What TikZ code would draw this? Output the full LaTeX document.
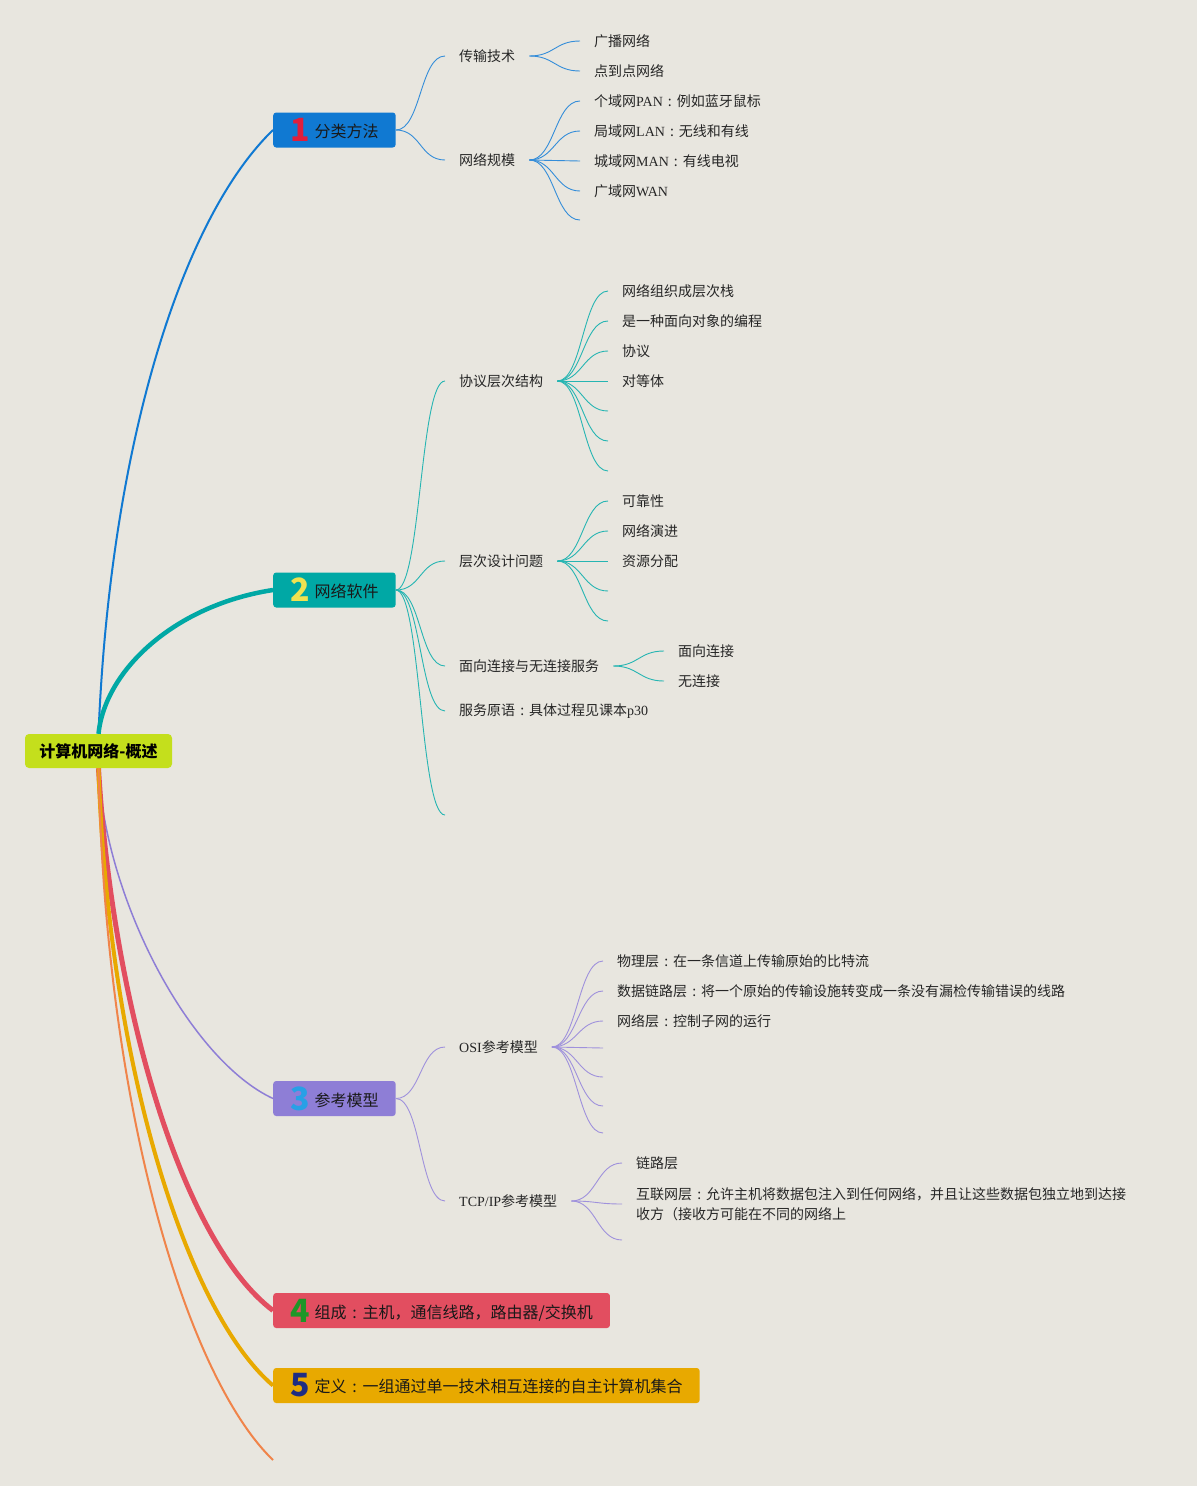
\documentclass[tikz,border=0pt]{standalone}
\usepackage{fontspec}
\setmainfont{Noto Sans CJK SC}
\newfontfamily\lat{Liberation Serif}
\definecolor{bgcol}{RGB}{232,230,223}
\definecolor{rootcol}{RGB}{196,223,28}
\definecolor{bluecol}{RGB}{16,121,210}
\definecolor{tealcol}{RGB}{0,168,165}
\definecolor{purpcol}{RGB}{142,126,214}
\definecolor{redcol}{RGB}{226,78,96}
\definecolor{yelcol}{RGB}{232,169,0}
\definecolor{orgcol}{RGB}{240,132,74}
\definecolor{numred}{RGB}{224,30,60}
\definecolor{numyel}{RGB}{240,226,80}
\definecolor{numcyan}{RGB}{40,160,230}
\definecolor{numgreen}{RGB}{30,150,40}
\definecolor{numnavy}{RGB}{30,45,130}
\newcommand{\topicnum}[2]{\raisebox{-4pt}{\color{#1}\fontsize{32}{32}\selectfont\bfseries #2}\hspace{5pt}}
\newcommand{\zhcolon}{\makebox[1em][c]{:}}

\begin{document}
\begin{tikzpicture}[x=1pt, y=-1pt,
  topic/.style={anchor=west, rounded corners=3pt, minimum height=35pt, inner xsep=17pt, inner ysep=0pt, text=black!90, font=\fontsize{16}{19}\selectfont},
  subtopic/.style={anchor=west, inner xsep=14pt, inner ysep=1pt, text=black!85, font=\fontsize{14}{17}\selectfont},
  leaf/.style={subtopic},
  twig/.style={line width=0.9pt}] % {{{
\fill[bgcol] (0,0) rectangle (1197,1486);
\useasboundingbox (0,0) rectangle (1197,1486);
\node[fill=rootcol, rounded corners=4pt, minimum width=147pt, minimum height=34pt, inner xsep=0pt, font=\fontsize{16}{19}\selectfont\bfseries] (root) at (98.5,751) {计算机网络-概述};
% 1 分类方法 {{{
\node[topic, fill=bluecol] (fenlei) at (273,130) {\topicnum{numred}{1}分类方法};
\draw[bluecol, line width=2pt] (root.north) .. controls (110,450) and (180,220) .. (fenlei.west);
\node[subtopic] (chuanshu) at (445,56) {传输技术};
\node[subtopic] (guimo) at (445,160) {网络规模};
\draw[twig, bluecol!85!white] (fenlei.east) .. controls +(25,0) and +(-25,0) .. (chuanshu.west);
\draw[twig, bluecol!85!white] (fenlei.east) .. controls +(25,0) and +(-25,0) .. (guimo.west);
\node[leaf] (guangbo) at (580,41) {广播网络};
\node[leaf] (diandao) at (580,71) {点到点网络};
\draw[twig, bluecol!85!white] (chuanshu.east) .. controls +(25,0) and +(-25,0) .. (guangbo.west);
\draw[twig, bluecol!85!white] (chuanshu.east) .. controls +(25,0) and +(-25,0) .. (diandao.west);
\node[leaf] (pan) at (580,101) {个域网{\lat PAN}\zhcolon 例如蓝牙鼠标};
\node[leaf] (lan) at (580,131) {局域网{\lat LAN}\zhcolon 无线和有线};
\node[leaf] (man) at (580,161) {城域网{\lat MAN}\zhcolon 有线电视};
\node[leaf] (wan) at (580,191) {广域网{\lat WAN}};
\coordinate (guimo5) at (580,220);
\draw[twig, bluecol!85!white] (guimo.east) .. controls +(25,0) and +(-25,0) .. (pan.west);
\draw[twig, bluecol!85!white] (guimo.east) .. controls +(25,0) and +(-25,0) .. (lan.west);
\draw[twig, bluecol!85!white] (guimo.east) .. controls +(25,0) and +(-25,0) .. (man.west);
\draw[twig, bluecol!85!white] (guimo.east) .. controls +(25,0) and +(-25,0) .. (wan.west);
\draw[twig, bluecol!85!white] (guimo.east) .. controls +(25,0) and +(-25,0) .. (guimo5);
% }}}
% 2 网络软件 {{{
\node[topic, fill=tealcol] (ruanjian) at (273,590) {\topicnum{numyel}{2}网络软件};
\draw[tealcol, line width=4.5pt] (root.north) .. controls (105,670) and (175,605) .. (ruanjian.west);
\node[subtopic] (cengci) at (445,381) {协议层次结构};
\node[subtopic] (sheji) at (445,561) {层次设计问题};
\node[subtopic] (lianjie) at (445,666) {面向连接与无连接服务};
\node[subtopic] (yuanyu) at (445,711) {服务原语\zhcolon 具体过程见课本{\lat p30}};
\coordinate (ruanjian5) at (445,815);
\draw[twig, tealcol!85!white] (ruanjian.east) .. controls +(25,0) and +(-25,0) .. (cengci.west);
\draw[twig, tealcol!85!white] (ruanjian.east) .. controls +(25,0) and +(-25,0) .. (sheji.west);
\draw[twig, tealcol!85!white] (ruanjian.east) .. controls +(25,0) and +(-25,0) .. (lianjie.west);
\draw[twig, tealcol!85!white] (ruanjian.east) .. controls +(25,0) and +(-25,0) .. (yuanyu.west);
\draw[twig, tealcol!85!white] (ruanjian.east) .. controls +(25,0) and +(-25,0) .. (ruanjian5);
\node[leaf] (zhan) at (608,291) {网络组织成层次栈};
\node[leaf] (duixiang) at (608,321) {是一种面向对象的编程};
\node[leaf] (xieyi) at (608,351) {协议};
\node[leaf] (duideng) at (608,381) {对等体};
\coordinate (cengci5) at (608,411);
\coordinate (cengci6) at (608,441);
\coordinate (cengci7) at (608,471);
\draw[twig, tealcol!85!white] (cengci.east) .. controls +(25,0) and +(-25,0) .. (zhan.west);
\draw[twig, tealcol!85!white] (cengci.east) .. controls +(25,0) and +(-25,0) .. (duixiang.west);
\draw[twig, tealcol!85!white] (cengci.east) .. controls +(25,0) and +(-25,0) .. (xieyi.west);
\draw[twig, tealcol!85!white] (cengci.east) .. controls +(25,0) and +(-25,0) .. (duideng.west);
\draw[twig, tealcol!85!white] (cengci.east) .. controls +(25,0) and +(-25,0) .. (cengci5);
\draw[twig, tealcol!85!white] (cengci.east) .. controls +(25,0) and +(-25,0) .. (cengci6);
\draw[twig, tealcol!85!white] (cengci.east) .. controls +(25,0) and +(-25,0) .. (cengci7);
\node[leaf] (kekao) at (608,501) {可靠性};
\node[leaf] (yanjin) at (608,531) {网络演进};
\node[leaf] (ziyuan) at (608,561) {资源分配};
\coordinate (sheji4) at (608,591);
\coordinate (sheji5) at (608,621);
\draw[twig, tealcol!85!white] (sheji.east) .. controls +(25,0) and +(-25,0) .. (kekao.west);
\draw[twig, tealcol!85!white] (sheji.east) .. controls +(25,0) and +(-25,0) .. (yanjin.west);
\draw[twig, tealcol!85!white] (sheji.east) .. controls +(25,0) and +(-25,0) .. (ziyuan.west);
\draw[twig, tealcol!85!white] (sheji.east) .. controls +(25,0) and +(-25,0) .. (sheji4);
\draw[twig, tealcol!85!white] (sheji.east) .. controls +(25,0) and +(-25,0) .. (sheji5);
\node[leaf] (mianxiang) at (664,651) {面向连接};
\node[leaf] (wulianjie) at (664,681) {无连接};
\draw[twig, tealcol!85!white] (lianjie.east) .. controls +(25,0) and +(-25,0) .. (mianxiang.west);
\draw[twig, tealcol!85!white] (lianjie.east) .. controls +(25,0) and +(-25,0) .. (wulianjie.west);
% }}}
% 3 参考模型 {{{
\node[topic, fill=purpcol] (cankao) at (273,1098.5) {\topicnum{numcyan}{3}参考模型};
\draw[purpcol, line width=1.5pt] (root.south) .. controls (105,900) and (190,1060) .. (cankao.west);
\node[subtopic] (osi) at (445,1047) {{\lat OSI}参考模型};
\node[subtopic] (tcpip) at (445,1201) {{\lat TCP/IP}参考模型};
\draw[twig, purpcol!85!white] (cankao.east) .. controls +(25,0) and +(-25,0) .. (osi.west);
\draw[twig, purpcol!85!white] (cankao.east) .. controls +(25,0) and +(-25,0) .. (tcpip.west);
\node[leaf] (wuli) at (603,961) {物理层\zhcolon 在一条信道上传输原始的比特流};
\node[leaf] (shuju) at (603,991) {数据链路层\zhcolon 将一个原始的传输设施转变成一条没有漏检传输错误的线路};
\node[leaf] (wangluo) at (603,1021) {网络层\zhcolon 控制子网的运行};
\coordinate (osi4) at (603,1048);
\coordinate (osi5) at (603,1077);
\coordinate (osi6) at (603,1106);
\coordinate (osi7) at (603,1133);
\draw[twig, purpcol!85!white] (osi.east) .. controls +(25,0) and +(-25,0) .. (wuli.west);
\draw[twig, purpcol!85!white] (osi.east) .. controls +(25,0) and +(-25,0) .. (shuju.west);
\draw[twig, purpcol!85!white] (osi.east) .. controls +(25,0) and +(-25,0) .. (wangluo.west);
\draw[twig, purpcol!85!white] (osi.east) .. controls +(25,0) and +(-25,0) .. (osi4);
\draw[twig, purpcol!85!white] (osi.east) .. controls +(25,0) and +(-25,0) .. (osi5);
\draw[twig, purpcol!85!white] (osi.east) .. controls +(25,0) and +(-25,0) .. (osi6);
\draw[twig, purpcol!85!white] (osi.east) .. controls +(25,0) and +(-25,0) .. (osi7);
\node[leaf] (lianlu) at (622,1163) {链路层};
\node[leaf, align=left, font=\fontsize{14}{20}\selectfont] (hulian) at (622,1204) {互联网层\zhcolon 允许主机将数据包注入到任何网络，并且让这些数据包独立地到达接\\收方（接收方可能在不同的网络上};
\coordinate (tcpip3) at (622,1240);
\draw[twig, purpcol!85!white] (tcpip.east) .. controls +(25,0) and +(-25,0) .. (lianlu.west);
\draw[twig, purpcol!85!white] (tcpip.east) .. controls +(25,0) and +(-25,0) .. (hulian.west);
\draw[twig, purpcol!85!white] (tcpip.east) .. controls +(25,0) and +(-25,0) .. (tcpip3);
% }}}
% 4 组成, 5 定义, empty {{{
\node[topic, fill=redcol] (zucheng) at (273,1310.5) {\topicnum{numgreen}{4}组成\zhcolon 主机，通信线路，路由器/交换机};
\draw[redcol, line width=5pt] (root.south) .. controls (112,1000) and (180,1240) .. (zucheng.west);
\node[topic, fill=yelcol] (dingyi) at (273,1385.5) {\topicnum{numnavy}{5}定义\zhcolon 一组通过单一技术相互连接的自主计算机集合};
\draw[yelcol, line width=4pt] (root.south) .. controls (108,1060) and (185,1310) .. (dingyi.west);
\coordinate (kong6) at (273,1460);
\draw[orgcol, line width=2pt] (root.south) .. controls (106,1120) and (190,1380) .. (kong6);
% }}}
\end{tikzpicture} % }}}
\end{document}
